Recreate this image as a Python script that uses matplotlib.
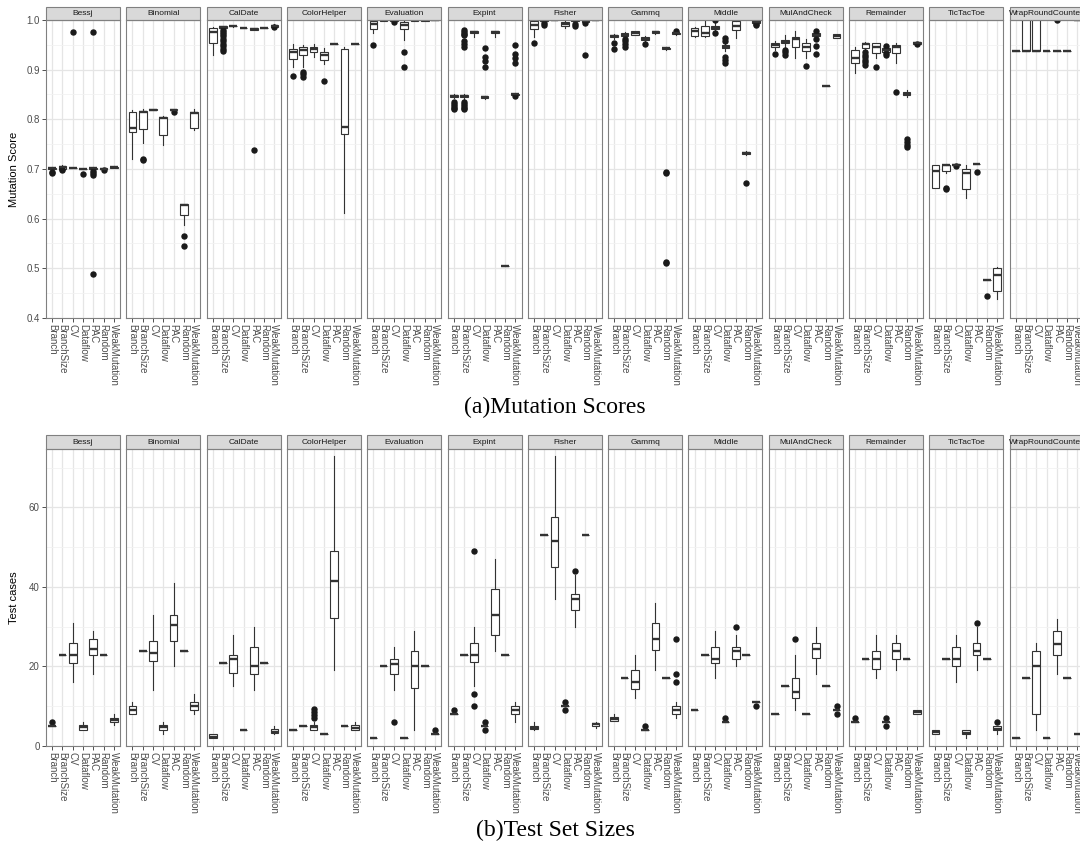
import matplotlib
matplotlib.use("Agg")
import matplotlib.pyplot as plt
from matplotlib.patches import Rectangle
from matplotlib.ticker import MultipleLocator, FormatStrFormatter

plt.rcParams['font.family'] = ['Liberation Sans', 'DejaVu Sans']

subjects = ['Bessj', 'Binomial', 'CalDate', 'ColorHelper', 'Evaluation', 'Expint', 'Fisher',
            'Gammq', 'Middle', 'MulAndCheck', 'Remainder', 'TicTacToe', 'WrapRoundCounter']
techniques = ['Branch', 'BranchSize', 'CV', 'Dataflow', 'PAC', 'Random', 'WeakMutation']

# mutation score per technique: (low whisker, q1, median, q3, high whisker); a single number = flat box
ms_bessj = [(0.697, 0.700, 0.702, 0.703, 0.704), (0.698, 0.701, 0.704, 0.706, 0.708), 0.703, 0.701,
            (0.699, 0.700, 0.702, 0.703, 0.704), (0.698, 0.699, 0.701, 0.702, 0.703), (0.702, 0.703, 0.704, 0.705, 0.706)]
ms_binomial = [(0.720, 0.775, 0.783, 0.815, 0.819), (0.753, 0.780, 0.814, 0.817, 0.821), (0.818, 0.819, 0.819, 0.820, 0.820),
               (0.748, 0.768, 0.803, 0.805, 0.806), (0.817, 0.818, 0.819, 0.820, 0.821), (0.587, 0.607, 0.627, 0.630, 0.630),
               (0.778, 0.782, 0.812, 0.815, 0.820)]
ms_caldate = [(0.930, 0.954, 0.975, 0.983, 0.985), (0.983, 0.983, 0.985, 0.987, 0.988), (0.986, 0.987, 0.987, 0.987, 0.988),
              0.983, (0.979, 0.980, 0.982, 0.983, 0.984), 0.983, (0.985, 0.986, 0.988, 0.990, 0.991)]
ms_colorhelper = [(0.906, 0.921, 0.935, 0.941, 0.951), (0.906, 0.929, 0.940, 0.946, 0.950), (0.926, 0.935, 0.941, 0.946, 0.952),
                  (0.911, 0.920, 0.930, 0.936, 0.943), 0.951, (0.612, 0.771, 0.784, 0.941, 0.945), 0.951]
ms_evaluation = [(0.973, 0.981, 0.991, 0.997, 1.0), (0.997, 0.998, 0.999, 1.0, 1.0), (0.997, 0.998, 0.999, 1.0, 1.0),
                 (0.960, 0.981, 0.990, 0.996, 1.0), (0.997, 0.998, 0.999, 1.0, 1.0), (0.998, 0.998, 0.999, 0.999, 1.0), 1.0]
ms_expint = [(0.843, 0.845, 0.847, 0.848, 0.852), (0.840, 0.844, 0.847, 0.849, 0.851), (0.966, 0.973, 0.975, 0.977, 0.978),
             (0.841, 0.842, 0.844, 0.846, 0.847), (0.965, 0.973, 0.975, 0.977, 0.978), 0.505, (0.846, 0.848, 0.850, 0.852, 0.853)]
ms_fisher = [(0.966, 0.981, 0.990, 0.997, 1.0), (0.998, 0.998, 0.999, 1.0, 1.0), 1.0, (0.984, 0.987, 0.992, 0.995, 0.997),
             (0.995, 0.997, 0.999, 1.0, 1.0), (0.995, 0.996, 0.998, 1.0, 1.0), 1.0]
ms_gammq = [(0.962, 0.966, 0.968, 0.970, 0.972), (0.964, 0.968, 0.970, 0.973, 0.975), (0.969, 0.970, 0.974, 0.977, 0.978),
            (0.956, 0.960, 0.962, 0.965, 0.967), (0.972, 0.973, 0.975, 0.977, 0.978), (0.940, 0.941, 0.943, 0.944, 0.946),
            (0.970, 0.971, 0.973, 0.974, 0.976)]
ms_middle = [(0.966, 0.968, 0.977, 0.983, 0.985), (0.966, 0.968, 0.973, 0.987, 1.0), (0.975, 0.981, 0.983, 0.988, 0.995),
             (0.938, 0.943, 0.946, 0.950, 0.953), (0.963, 0.979, 0.988, 0.997, 1.0), (0.728, 0.730, 0.733, 0.735, 0.737),
             (0.990, 0.993, 0.996, 0.999, 1.0)]
ms_mulandcheck = [(0.940, 0.945, 0.949, 0.953, 0.957), (0.945, 0.953, 0.956, 0.960, 0.970), (0.923, 0.945, 0.961, 0.966, 0.977),
                  (0.923, 0.938, 0.946, 0.953, 0.961), (0.967, 0.968, 0.970, 0.973, 0.974), 0.868, (0.963, 0.963, 0.968, 0.972, 0.972)]
ms_remainder = [(0.893, 0.913, 0.923, 0.940, 0.946), (0.940, 0.943, 0.951, 0.954, 0.956), (0.923, 0.933, 0.946, 0.953, 0.954),
                (0.935, 0.936, 0.940, 0.943, 0.945), (0.913, 0.934, 0.946, 0.950, 0.954), (0.845, 0.848, 0.852, 0.856, 0.860),
                (0.952, 0.952, 0.954, 0.956, 0.956)]
ms_tictactoe = [(0.661, 0.661, 0.695, 0.708, 0.709), (0.691, 0.696, 0.708, 0.709, 0.710), (0.707, 0.708, 0.709, 0.711, 0.711),
                (0.641, 0.659, 0.691, 0.701, 0.709), 0.710, 0.477, (0.438, 0.454, 0.487, 0.500, 0.502)]
ms_wrapround = [0.938, (0.938, 0.938, 0.938, 1.0, 1.0), (0.938, 0.938, 0.938, 1.0, 1.0), 0.938, 0.938, 0.938, 1.0]

ms_outliers = {
    ('Bessj', 'Branch'): [0.694, 0.691], ('Bessj', 'BranchSize'): [0.699, 0.697], ('Bessj', 'CV'): [0.975],
    ('Bessj', 'Dataflow'): [0.689], ('Bessj', 'PAC'): [0.975, 0.696, 0.692, 0.688, 0.489], ('Bessj', 'Random'): [0.697],
    ('Binomial', 'BranchSize'): [0.720, 0.719], ('Binomial', 'PAC'): [0.815], ('Binomial', 'Random'): [0.565, 0.544],
    ('CalDate', 'BranchSize'): [0.980, 0.976, 0.972, 0.967, 0.962, 0.957, 0.952, 0.947, 0.942, 0.938],
    ('CalDate', 'PAC'): [0.738], ('CalDate', 'WeakMutation'): [0.985],
    ('ColorHelper', 'Branch'): [0.887], ('ColorHelper', 'BranchSize'): [0.896, 0.891, 0.886], ('ColorHelper', 'Dataflow'): [0.878],
    ('Evaluation', 'Branch'): [0.950], ('Evaluation', 'CV'): [0.995], ('Evaluation', 'Dataflow'): [0.935, 0.906],
    ('Expint', 'Branch'): [0.835, 0.830, 0.826, 0.822, 0.820],
    ('Expint', 'BranchSize'): [0.979, 0.975, 0.972, 0.969, 0.957, 0.952, 0.946, 0.835, 0.830, 0.826, 0.822, 0.820],
    ('Expint', 'Dataflow'): [0.943, 0.926, 0.918, 0.906], ('Expint', 'WeakMutation'): [0.950, 0.932, 0.923, 0.913, 0.846],
    ('Fisher', 'Branch'): [0.953], ('Fisher', 'BranchSize'): [0.993, 0.989], ('Fisher', 'PAC'): [0.992, 0.988],
    ('Fisher', 'Random'): [0.993, 0.930],
    ('Gammq', 'Branch'): [0.953, 0.941], ('Gammq', 'BranchSize'): [0.962, 0.957, 0.952, 0.946], ('Gammq', 'Dataflow'): [0.951],
    ('Gammq', 'Random'): [0.694, 0.692, 0.512, 0.510], ('Gammq', 'WeakMutation'): [0.978],
    ('Middle', 'CV'): [0.999, 0.973], ('Middle', 'Dataflow'): [0.963, 0.957, 0.926, 0.920, 0.914],
    ('Middle', 'Random'): [0.671], ('Middle', 'WeakMutation'): [0.992, 0.990],
    ('MulAndCheck', 'Branch'): [0.931], ('MulAndCheck', 'BranchSize'): [0.940, 0.935, 0.930],
    ('MulAndCheck', 'Dataflow'): [0.907], ('MulAndCheck', 'PAC'): [0.978, 0.962, 0.948, 0.931],
    ('Remainder', 'BranchSize'): [0.936, 0.930, 0.925, 0.920, 0.915, 0.910], ('Remainder', 'CV'): [0.906],
    ('Remainder', 'Dataflow'): [0.948, 0.933, 0.930], ('Remainder', 'PAC'): [0.856],
    ('Remainder', 'Random'): [0.760, 0.755, 0.749, 0.744], ('Remainder', 'WeakMutation'): [0.951],
    ('TicTacToe', 'BranchSize'): [0.661, 0.659], ('TicTacToe', 'CV'): [0.707], ('TicTacToe', 'PAC'): [0.693],
    ('TicTacToe', 'Random'): [0.444],
    ('WrapRoundCounter', 'PAC'): [1.0],
}

# test set sizes, same layout
tc_bessj = [5, 23, (16, 21, 23, 26, 31), (4, 4, 4.7, 5.2, 6), (18, 23, 24.5, 27, 29), 23, (5.2, 6, 6.5, 7, 8)]
tc_binomial = [(8, 8, 9, 10, 11), 24, (14, 21.3, 23.5, 26.5, 33), (3, 4, 4.7, 5.3, 6), (20, 26.3, 30.5, 33, 41), 24, (8, 9, 10, 11, 13)]
tc_caldate = [(2, 2, 2.3, 3, 3), 21, (15, 18.3, 22, 23, 28), 4, (14, 18, 20, 25, 30), 21, (3, 3.2, 3.6, 4.2, 5)]
tc_colorhelper = [4, 5, (4, 4, 4.7, 5.2, 6), 3, (19, 32.3, 41.5, 49, 73), 5, (4, 4, 4.6, 5.3, 6)]
tc_evaluation = [2, 20, (14, 18, 20.5, 22, 25), 2, (4, 14.5, 20, 24, 29), 20, 3]
tc_expint = [8, 23, (15, 21.2, 23, 25.8, 30), 5, (24, 28, 33, 39.5, 47), 23, (6, 8, 9, 10, 11)]
tc_fisher = [(4, 4.2, 4.6, 5.1, 6), 53, (37, 45, 51.5, 57.7, 73), 10, (30, 34.2, 37, 38.2, 43), 53, (4.5, 5, 5.5, 5.9, 6)]
tc_gammq = [(6.3, 6.3, 6.8, 7.2, 8), 17, (12, 14.3, 16.2, 19, 23), 4, (19, 24.2, 27, 31, 36), 17, (7, 8, 9, 10, 11)]
tc_middle = [9, 23, (17, 21, 22, 25, 29), 6, (20, 22, 24, 25, 28), 23, 11]
tc_mulandcheck = [8, 15, (9, 12, 13.5, 17, 23), 8, (18, 22.2, 24.5, 25.8, 30), 15, 9]
tc_remainder = [6, 22, (17, 19.3, 22, 24, 28), 6, (19, 22, 24, 26, 28), 22, (8, 8, 8.5, 9, 9)]
tc_tictactoe = [(3, 3, 3.5, 4, 4), 22, (16, 20, 22, 25, 28), (2, 3, 3.3, 4, 4), (19, 23, 24, 26, 30), 22, (3, 4, 4.4, 5, 5)]
tc_wrapround = [2, 17, (4, 8, 20, 24, 26), 2, (18, 23, 25.7, 29, 32), 17, 3]

tc_outliers = {
    ('Bessj', 'Branch'): [6], ('ColorHelper', 'CV'): [7, 7.8, 8.5, 9.3], ('Evaluation', 'CV'): [6],
    ('Evaluation', 'WeakMutation'): [4], ('Expint', 'Branch'): [9], ('Expint', 'CV'): [13, 10, 49],
    ('Expint', 'Dataflow'): [6, 4], ('Fisher', 'Dataflow'): [11, 9], ('Fisher', 'PAC'): [44],
    ('Gammq', 'Dataflow'): [5], ('Gammq', 'WeakMutation'): [16, 18, 27], ('Middle', 'Dataflow'): [7],
    ('Middle', 'PAC'): [30], ('Middle', 'WeakMutation'): [10], ('MulAndCheck', 'CV'): [27],
    ('MulAndCheck', 'WeakMutation'): [10, 8], ('Remainder', 'Branch'): [7], ('Remainder', 'Dataflow'): [7, 5],
    ('TicTacToe', 'PAC'): [31], ('TicTacToe', 'WeakMutation'): [6],
}

ms_boxes = [ms_bessj, ms_binomial, ms_caldate, ms_colorhelper, ms_evaluation, ms_expint, ms_fisher,
            ms_gammq, ms_middle, ms_mulandcheck, ms_remainder, ms_tictactoe, ms_wrapround]
tc_boxes = [tc_bessj, tc_binomial, tc_caldate, tc_colorhelper, tc_evaluation, tc_expint, tc_fisher,
            tc_gammq, tc_middle, tc_mulandcheck, tc_remainder, tc_tictactoe, tc_wrapround]

W, H = 1080, 847
fig = plt.figure(figsize=(W / 100, H / 100), dpi=100)
dark = '#333333'


def facet_row(top, bottom, strip_h, boxes, outliers, ylim, major, minor, fmt, ylabel):
    for i, name in enumerate(subjects):
        ax = fig.add_axes([(46 + i * 80.3) / W, 1 - bottom / H, 74 / W, (bottom - top) / H])
        stats = []
        for j, t in enumerate(techniques):
            b = boxes[i][j]
            if not isinstance(b, tuple):
                b = (b,) * 5
            stats.append(dict(whislo=b[0], q1=b[1], med=b[2], q3=b[3], whishi=b[4],
                              fliers=outliers.get((name, t), []), label=t))
        ax.bxp(stats, positions=range(1, 8), widths=0.75, showcaps=False, patch_artist=True,
               boxprops=dict(facecolor='white', edgecolor=dark, linewidth=0.8),
               medianprops=dict(color=dark, linewidth=1.7),
               whiskerprops=dict(color=dark, linewidth=0.8),
               flierprops=dict(marker='o', markerfacecolor='#1a1a1a', markeredgecolor='#1a1a1a', markersize=3.6))
        ax.set_xlim(0.4, 7.6)
        ax.set_ylim(*ylim)
        ax.yaxis.set_major_locator(MultipleLocator(major))
        ax.yaxis.set_minor_locator(MultipleLocator(minor))
        ax.yaxis.set_major_formatter(FormatStrFormatter(fmt))
        ax.set_axisbelow(True)
        ax.grid(which='major', color='#E5E5E5', linewidth=0.9)
        ax.grid(which='minor', axis='y', color='#F2F2F2', linewidth=0.6)
        ax.set_xticks(range(1, 8))
        ax.set_xticklabels(techniques, rotation=270, ha='center', va='top')
        ax.tick_params(axis='both', which='major', length=3, width=0.6, color=dark,
                       labelsize=7, labelcolor='#4D4D4D', pad=1.5)
        ax.tick_params(axis='y', which='minor', length=0)
        if i > 0:
            ax.tick_params(axis='y', left=False, labelleft=False)
        for s in ax.spines.values():
            s.set_color('#808080')
            s.set_linewidth(0.8)
        h = strip_h / (bottom - top)
        ax.add_patch(Rectangle((0, 1), 1, h, transform=ax.transAxes, clip_on=False,
                               facecolor='#D9D9D9', edgecolor='#808080', linewidth=0.8))
        ax.text(0.5, 1 + h / 2, name, transform=ax.transAxes, ha='center', va='center',
                fontsize=6, color='#1a1a1a', clip_on=False)
    fig.text(14 / W, 1 - (top + bottom) / 2 / H, ylabel, rotation=90, ha='center', va='center', fontsize=8)


facet_row(20, 318, 13, ms_boxes, ms_outliers, (0.4, 1.0), 0.1, 0.05, '%.1f', 'Mutation Score')
facet_row(449, 746, 14, tc_boxes, tc_outliers, (0, 74.7), 20, 10, '%d', 'Test cases')

fig.text(555 / W, 1 - 407 / H, '(a)Mutation Scores', family='Liberation Serif', fontsize=17,
         ha='center', va='center')
fig.text(555 / W, 1 - 830 / H, '(b)Test Set Sizes', family='Liberation Serif', fontsize=17,
         ha='center', va='center')

fig.savefig('out.png', dpi=100)
